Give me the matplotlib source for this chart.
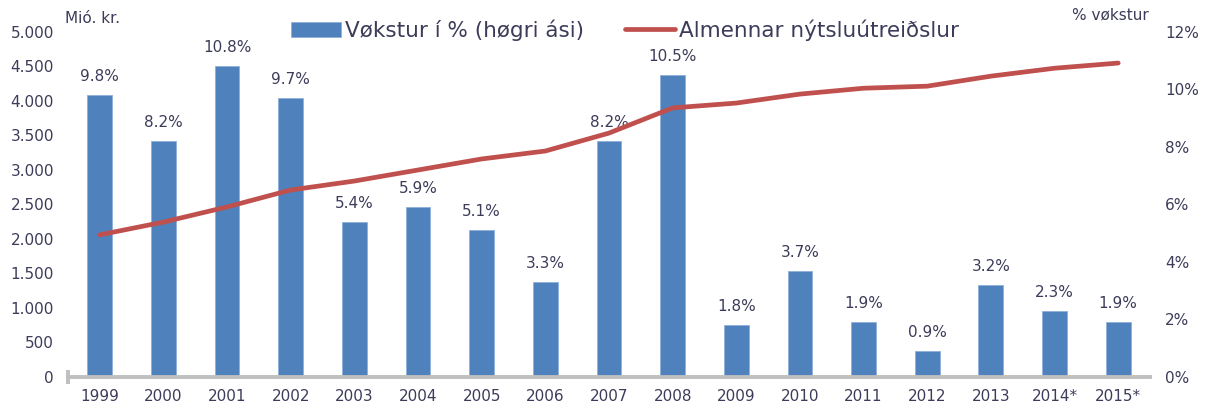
import numpy as np
import matplotlib.pyplot as plt

# Data
years = ["1999", "2000", "2001", "2002", "2003", "2004", "2005", "2006", "2007",
         "2008", "2009", "2010", "2011", "2012", "2013", "2014*", "2015*"]
growth_pct = [9.8, 8.2, 10.8, 9.7, 5.4, 5.9, 5.1, 3.3, 8.2,
              10.5, 1.8, 3.7, 1.9, 0.9, 3.2, 2.3, 1.9]
consumption = [2060, 2245, 2465, 2710, 2840, 3000, 3160, 3275, 3535,
               3900, 3970, 4100, 4185, 4215, 4360, 4475, 4550]

left_ticks = [0, 500, 1000, 1500, 2000, 2500, 3000, 3500, 4000, 4500, 5000]
right_ticks = [0, 2, 4, 6, 8, 10, 12]


def fmt_thousands(v):
    """Icelandic/Faroese style: dot as thousands separator."""
    return f"{v:,}".replace(",", ".")


def main():
    text_color = "#3c3c5a"
    bar_color = "#4f81bd"
    line_color = "#c0504d"
    axis_color = "#bfbfbf"

    plt.rcParams["font.family"] = ["DejaVu Sans"]

    fig = plt.figure(figsize=(12.07, 4.15), dpi=100)
    ax = fig.add_axes([0.0563, 0.0916, 0.8965, 0.8313])
    ax2 = ax.twinx()

    x = np.arange(len(years))

    # Bars on the right (percent) axis
    bars = ax2.bar(x, growth_pct, width=0.39, color=bar_color,
                   edgecolor="#8eb0da", linewidth=0.6, label="Vøkstur í % (høgri ási)")
    for xi, v in zip(x, growth_pct):
        ax2.annotate(f"{v:.1f}%", (xi, v), xytext=(0, 8), textcoords="offset points",
                     ha="center", va="bottom", fontsize=11, color=text_color)
    ax2.set_ylim(0, 12)
    ax2.set_yticks(right_ticks)
    ax2.set_yticklabels([f"{t}%" for t in right_ticks])

    # Line on the left axis
    line, = ax.plot(x, consumption, color=line_color, linewidth=3.4,
                    solid_capstyle="round", label="Almennar nýtsluútreiðslur")
    ax.set_ylim(0, 5000)
    ax.set_yticks(left_ticks)
    ax.set_yticklabels([fmt_thousands(t) for t in left_ticks])
    ax.set_xlim(-0.5, len(years) - 0.5)
    ax.set_xticks(x)
    ax.set_xticklabels(years)
    ax.set_xticks([-0.5], minor=True)

    # Line in front of the bars
    ax.set_zorder(ax2.get_zorder() + 1)
    ax.patch.set_visible(False)

    for a in (ax, ax2):
        for s in a.spines.values():
            s.set_visible(False)
    ax.spines["bottom"].set_visible(True)
    ax.spines["bottom"].set_color(axis_color)
    ax.spines["bottom"].set_linewidth(2.8)

    ax.tick_params(axis="y", length=0, pad=10, labelsize=11, labelcolor=text_color)
    ax2.tick_params(axis="y", length=0, pad=11, labelsize=11, labelcolor=text_color)
    ax.tick_params(axis="x", which="major", length=0, pad=9, labelsize=11, labelcolor=text_color)
    ax.tick_params(axis="x", which="minor", length=10, width=2.8, direction="inout",
                   color=axis_color)

    fig.text(0.054, 0.955, "Mió. kr.", fontsize=11, color=text_color, ha="left", va="center")
    fig.text(0.952, 0.963, "% vøkstur", fontsize=11, color=text_color, ha="right", va="center")

    fig.legend([bars, line], [bars.get_label(), line.get_label()], loc="center",
               bbox_to_anchor=(0.518, 0.928), ncol=2, frameon=False, fontsize=15.5,
               labelcolor=text_color, handlelength=2.3, handletextpad=0.2,
               columnspacing=1.9)

    fig.savefig("out.png", dpi=100)


if __name__ == "__main__":
    main()
